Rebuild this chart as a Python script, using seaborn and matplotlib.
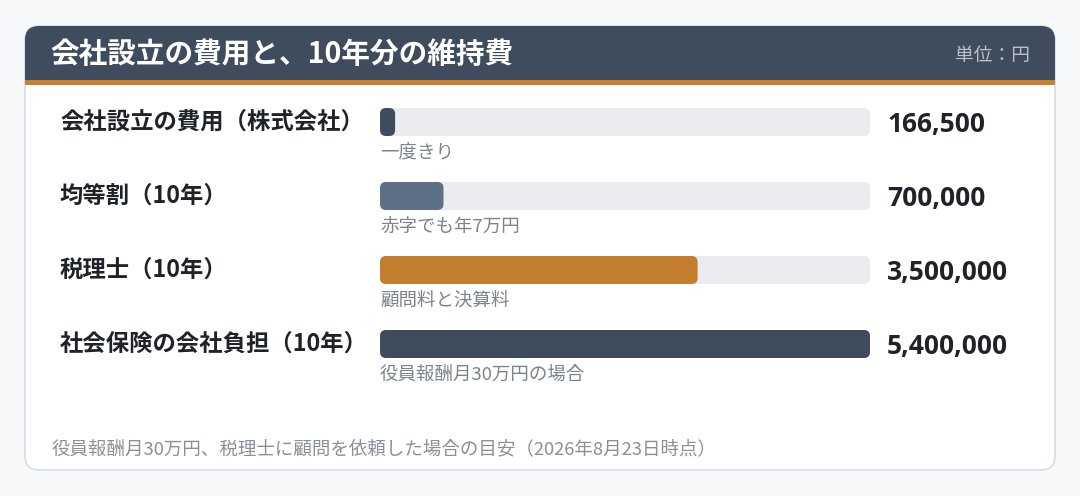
# cost_bars.py

import matplotlib.pyplot as plt
import matplotlib.transforms as mtransforms
from matplotlib.patches import FancyBboxPatch, Rectangle
import pandas as pd
import seaborn as sns

# Data
categories = ["会社設立の費用（株式会社）", "均等割（10年）", "税理士（10年）", "社会保険の会社負担（10年）"]
values = [166500, 700000, 3500000, 5400000]
notes = ["一度きり", "赤字でも年7万円", "顧問料と決算料", "役員報酬月30万円の場合"]
bar_colors = ["#3e4c5d", "#5e7086", "#c47d2c", "#3e4c5d"]

title = "会社設立の費用と、10年分の維持費"
unit = "単位：円"
footer = "役員報酬月30万円、税理士に顧問を依頼した場合の目安（2026年8月23日時点）"

sns.set_theme(style="white")
plt.rcParams["font.family"] = ["Noto Sans CJK JP", "DejaVu Sans"]

W, H = 1080, 496
fig = plt.figure(figsize=(W / 100, H / 100), dpi=100)
fig.patch.set_facecolor("#f6f8fa")

# decor layer in pixel coords
deco = fig.add_axes([0, 0, 1, 1], zorder=0)
deco.set_xlim(0, W)
deco.set_ylim(H, 0)
deco.axis("off")

card = FancyBboxPatch((25, 26), 1030, 444, boxstyle="round,pad=0,rounding_size=14",
                      fc="white", ec="#d9dfe6", lw=1.3)
deco.add_patch(card)
hdr = Rectangle((25, 26), 1030, 54, fc="#3e4c5d", ec="none")
deco.add_patch(hdr)
hdr.set_clip_path(card)
stripe = Rectangle((25, 80), 1030, 5, fc="#c87f2e", ec="none")
deco.add_patch(stripe)
stripe.set_clip_path(card)

deco.text(50, 54, title, color="white", fontsize=20.6, fontweight="bold", va="center", ha="left")
deco.text(1030, 56, unit, color="#b9c1ca", fontsize=13.5, va="center", ha="right")
deco.text(52, 449, footer, color="#8a9099", fontsize=13.3, va="center", ha="left")

# bars
df = pd.DataFrame({"cat": categories, "value": values, "track": [max(values)] * len(values)})

ax = fig.add_axes([380 / W, 1 - 381 / H, 490 / W, 296 / H], zorder=1)
ax.patch.set_alpha(0)
sns.barplot(data=df, x="track", y="cat", color="#e9ecf0", width=28 / 74, ax=ax, orient="h")
sns.barplot(data=df, x="value", y="cat", hue="cat", palette=bar_colors, legend=False,
            width=28 / 74, ax=ax, orient="h", saturation=1)
ax.set_xlim(0, max(values))
ax.set_ylim(len(categories) - 0.5, -0.5)
ax.axis("off")

# swap rectangles for rounded bars
x_per_px = max(values) / 490
y_per_px = len(categories) / 296
r_px = 6
for p in list(ax.patches):
    x, y, w, h = p.get_x(), p.get_y(), p.get_width(), p.get_height()
    rr = min(r_px * x_per_px, w / 2)
    fb = FancyBboxPatch((x, y), w, h, boxstyle=f"round,pad=0,rounding_size={rr}",
                        mutation_aspect=y_per_px / x_per_px,
                        fc=p.get_facecolor(), ec="none", zorder=p.get_zorder())
    p.remove()
    ax.add_patch(fb)

tr = mtransforms.blended_transform_factory(deco.transData, ax.transData)
for i, (c, v, n) in enumerate(zip(categories, values, notes)):
    ax.text(60, i, c, transform=tr, fontsize=16.8, fontweight="bold", color="#1f2329",
            va="center", ha="left")
    ax.text(887, i + 0.03, f"{v:,}", transform=tr, fontsize=19, fontweight="bold",
            color="#1f2329", va="center", ha="left", family=["Open Sans", "DejaVu Sans"])
    ax.text(380, i + 0.41, n, transform=tr, fontsize=13.3, color="#7d838c",
            va="center", ha="left")

fig.savefig("out.png", dpi=100, facecolor=fig.get_facecolor())
